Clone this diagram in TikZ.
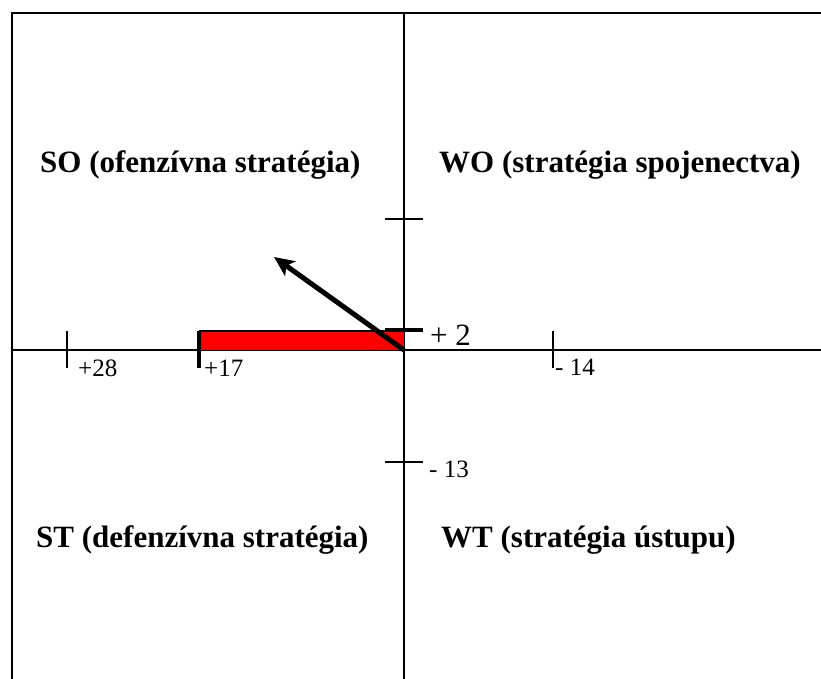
\documentclass[tikz,border=0pt]{standalone}
\usepackage{fontspec}
\setmainfont{Liberation Serif}
\usetikzlibrary{positioning, calc, arrows.meta}

\begin{document}
\begin{tikzpicture}[
  x=1pt, y=-1pt,
  >={Stealth[length=20pt,width=18pt,inset=5pt]},
  axisline/.style={black, line width=2pt},
  tickline/.style={black, line width=1.8pt},
  boldtick/.style={black, line width=3.4pt},
  quadlabel/.style={anchor=base west, inner sep=0pt,
                    font=\bfseries\fontsize{31}{36}\selectfont},
  ticklabel/.style={anchor=base west, inner sep=0pt,
                    font=\fontsize{25}{29}\selectfont},
]

\definecolor{cRed}{HTML}{FF0000}

\useasboundingbox (0,0) rectangle (821,679);

% =====================================================================
% frame and axes
% =====================================================================
\pgfmathsetmacro{\xL}{11.5}
\pgfmathsetmacro{\xR}{821}
\pgfmathsetmacro{\yT}{13}
\pgfmathsetmacro{\yB}{679}
\pgfmathsetmacro{\ox}{404}
\pgfmathsetmacro{\oy}{350}

\coordinate (origin) at (\ox, \oy);

\draw[axisline] (\xL, \yB) -- (\xL, \yT) -- (\xR, \yT);
\draw[axisline] (\ox, \yT) -- (\ox, \yB);
\draw[axisline] (\xL, \oy) -- (\xR, \oy);

% =====================================================================
% red bar (S side)
% =====================================================================
\pgfmathsetmacro{\barL}{199}
\pgfmathsetmacro{\barT}{331}
\fill[cRed] (\barL, \barT) rectangle (origin);
\draw[black, line width=1.2pt] (\ox, \barT) -- (\barL, \barT);

% =====================================================================
% ticks
% =====================================================================
\foreach \tx in {67, 553}{
  \draw[tickline] (\tx, 331) -- (\tx, 368);
}
\foreach \ty in {219, 462}{
  \draw[tickline] (385, \ty) -- (423, \ty);
}
\draw[boldtick] (\barL, \barT) -- (\barL, 368);
\draw[boldtick] (385, 330) -- (423, 330);

% tick labels
\node[ticklabel] (t28) at (78, 376)  {+28};
\node[ticklabel] (t17) at (204, 376) {+17};
\node[ticklabel] (t14) at (555, 375) {- 14};
\node[ticklabel] (t13) at (429, 477) {- 13};
\node[ticklabel, font=\fontsize{31}{36}\selectfont] (t2) at (430, 345) {+ 2};

% =====================================================================
% resultant vector
% =====================================================================
\coordinate (vecTip) at (274, 257);
\draw[black, line width=5pt, ->] (origin) -- (vecTip);

% =====================================================================
% quadrant labels
% =====================================================================
\node[quadlabel] (qSO) at (40, 172)  {SO (ofenzívna stratégia)};
\node[quadlabel] (qWO) at (439, 172) {WO (stratégia spojenectva)};
\node[quadlabel] (qST) at (36, 547)  {ST (defenzívna stratégia)};
\node[quadlabel] (qWT) at (441, 547) {WT (stratégia ústupu)};

\end{tikzpicture}
\end{document}
